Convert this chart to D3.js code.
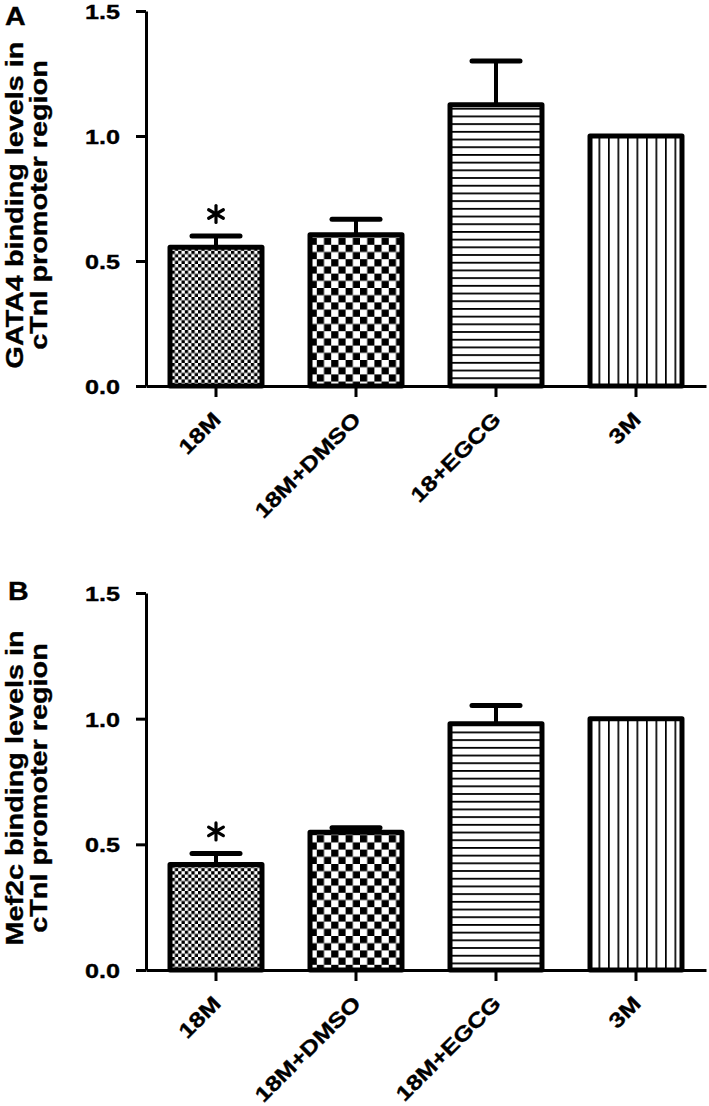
<!DOCTYPE html>
<html>
<head>
<meta charset="utf-8">
<script src="https://cdn.jsdelivr.net/npm/d3@7"></script>
<style>
  html, body { margin: 0; padding: 0; background: #fff; }
  svg { display: block; }
  text { font-family: "Liberation Sans", Arial, sans-serif; font-weight: bold; fill: #000; stroke: #000; stroke-width: 0.35px; }
</style>
</head>
<body>
<svg id="chart" width="709" height="1106"></svg>
<script>
// ---- data ----
const categoriesA = ["18M", "18M+DMSO", "18+EGCG", "3M"];
const categoriesB = ["18M", "18M+DMSO", "18M+EGCG", "3M"];
const valuesA = [0.555, 0.605, 1.125, 1.0];
const errorsA = [0.045, 0.062, 0.175, 0];
const valuesB = [0.42, 0.548, 0.98, 1.0];
const errorsB = [0.044, 0.018, 0.072, 0];
const significantA = [true, false, false, false];
const significantB = [true, false, false, false];
const yTicks = [0.0, 0.5, 1.0, 1.5];
const yLabelA = ["GATA4 binding levels in", "cTnI promoter region"];
const yLabelB = ["Mef2c binding levels in", "cTnI promoter region"];
const panelLetters = ["A", "B"];
const fills = ["fineCheck", "coarseCheck", "hLines", "vLines"];

const svg = d3.select("#chart");
const SX = 1.2; // horizontal stretch of the original typeface

// ---- patterns ----
const defs = svg.append("defs");
(function () {
  const c1 = 3.3;
  const p1 = defs.append("pattern").attr("id", "fineCheck").attr("patternUnits", "userSpaceOnUse")
    .attr("width", c1 * 2).attr("height", c1 * 2);
  p1.append("rect").attr("width", c1 * 2).attr("height", c1 * 2).attr("fill", "#fff");
  p1.append("rect").attr("width", c1).attr("height", c1).attr("fill", "#000");
  p1.append("rect").attr("x", c1).attr("y", c1).attr("width", c1).attr("height", c1).attr("fill", "#000");

  const c2 = 7.2;
  const p2 = defs.append("pattern").attr("id", "coarseCheck").attr("patternUnits", "userSpaceOnUse")
    .attr("width", c2 * 2).attr("height", c2 * 2);
  p2.append("rect").attr("width", c2 * 2).attr("height", c2 * 2).attr("fill", "#fff");
  p2.append("rect").attr("width", c2).attr("height", c2).attr("fill", "#000");
  p2.append("rect").attr("x", c2).attr("y", c2).attr("width", c2).attr("height", c2).attr("fill", "#000");

  const h = 7.7;
  const p3 = defs.append("pattern").attr("id", "hLines").attr("patternUnits", "userSpaceOnUse")
    .attr("width", 10).attr("height", h);
  p3.append("rect").attr("width", 10).attr("height", h).attr("fill", "#fff");
  p3.append("rect").attr("y", 0).attr("width", 10).attr("height", 1.8).attr("fill", "#000");

  const v = 9.5;
  const p4 = defs.append("pattern").attr("id", "vLines").attr("patternUnits", "userSpaceOnUse")
    .attr("width", v).attr("height", 10);
  p4.append("rect").attr("width", v).attr("height", 10).attr("fill", "#fff");
  p4.append("rect").attr("x", 0).attr("width", 1.7).attr("height", 10).attr("fill", "#000");
})();

function drawPanel(cfg) {
  const { cats, vals, errs, sig, label, letter, top, bottom, left, right, labelCenter } = cfg;
  const g = svg.append("g");

  const y = d3.scaleLinear().domain([0, 1.5]).range([bottom, top]);
  const p = 0.343;
  const x = d3.scaleBand().domain(cats).range([left, right]).paddingInner(p).paddingOuter(p / 2);

  // bars
  g.selectAll("rect.bar").data(cats).join("rect")
    .attr("class", "bar")
    .attr("x", d => x(d))
    .attr("width", x.bandwidth())
    .attr("y", (d, i) => y(vals[i]))
    .attr("height", (d, i) => y(0) - y(vals[i]))
    .attr("fill", (d, i) => `url(#${fills[i]})`)
    .attr("stroke", "#000")
    .attr("stroke-width", 5)
    .attr("stroke-linejoin", "round");

  const rows = cats.map((c, i) => ({ c, v: vals[i], e: errs[i], s: sig[i] }));
  const cx = d => x(d.c) + x.bandwidth() / 2;

  // error bars
  const eb = g.selectAll("g.err").data(rows.filter(d => d.e > 0)).join("g").attr("class", "err");
  eb.append("line")
    .attr("x1", cx).attr("x2", cx)
    .attr("y1", d => y(d.v)).attr("y2", d => y(d.v + d.e))
    .attr("stroke", "#000").attr("stroke-width", 4);
  eb.append("line")
    .attr("x1", d => cx(d) - 24).attr("x2", d => cx(d) + 24)
    .attr("y1", d => y(d.v + d.e)).attr("y2", d => y(d.v + d.e))
    .attr("stroke", "#000").attr("stroke-width", 5).attr("stroke-linecap", "round");

  // significance asterisks
  const stars = g.selectAll("g.star").data(rows.filter(d => d.s)).join("g").attr("class", "star")
    .attr("transform", d => `translate(${cx(d)},${y(d.v + d.e) - 22})`);
  [90, 30, -30].forEach(a => {
    const r = 8.5, rad = a * Math.PI / 180;
    stars.append("line")
      .attr("x1", -r * Math.cos(rad)).attr("y1", -r * Math.sin(rad))
      .attr("x2", r * Math.cos(rad)).attr("y2", r * Math.sin(rad))
      .attr("stroke", "#000").attr("stroke-width", 3.2).attr("stroke-linecap", "round");
  });

  // y axis
  const ya = g.append("g").attr("transform", `translate(${left},0)`)
    .call(d3.axisLeft(y).tickValues(yTicks).tickFormat(d3.format(".1f")).tickSize(10).tickSizeOuter(0).tickPadding(16));
  ya.attr("font-family", null).attr("font-size", null);
  ya.select(".domain").attr("stroke", "#000").attr("stroke-width", 3);
  ya.selectAll(".tick line").attr("stroke", "#000").attr("stroke-width", 3);
  ya.selectAll(".tick text")
    .attr("x", null).attr("dy", "0.36em")
    .attr("transform", `translate(-26,0) scale(${SX},1)`)
    .attr("text-anchor", "end")
    .style("font-size", "21px");

  // x axis
  const xa = g.append("g").attr("transform", `translate(0,${bottom})`)
    .call(d3.axisBottom(x).tickSize(11).tickSizeOuter(0));
  xa.attr("font-family", null).attr("font-size", null);
  xa.select(".domain").attr("stroke", "#000").attr("stroke-width", 3);
  xa.selectAll(".tick line").attr("stroke", "#000").attr("stroke-width", 3);
  xa.selectAll(".tick text")
    .attr("x", 0).attr("y", 0).attr("dy", 0)
    .attr("text-anchor", "end")
    .attr("transform", `translate(6,35) rotate(-45) scale(${SX},1)`)
    .style("font-size", "21px");

  // y label
  g.selectAll("text.ylab").data(label).join("text")
    .attr("class", "ylab")
    .attr("text-anchor", "middle")
    .attr("transform", (d, i) => `translate(${23 + i * 24},${labelCenter}) rotate(-90) scale(${SX},1)`)
    .style("font-size", "24px")
    .text(d => d);

  // panel letter
  g.append("text")
    .attr("transform", `translate(${cfg.letterX},${cfg.letterY}) scale(1.1,1)`)
    .style("font-size", "26px").text(letter);
}

drawPanel({ cats: categoriesA, vals: valuesA, errs: errorsA, sig: significantA, label: yLabelA, letter: panelLetters[0],
  top: 11, bottom: 386, left: 146, right: 706, labelCenter: 205, letterX: 5, letterY: 25 });
drawPanel({ cats: categoriesB, vals: valuesB, errs: errorsB, sig: significantB, label: yLabelB, letter: panelLetters[1],
  top: 593, bottom: 970, left: 146, right: 706, labelCenter: 788, letterX: 8, letterY: 600 });
</script>
</body>
</html>
